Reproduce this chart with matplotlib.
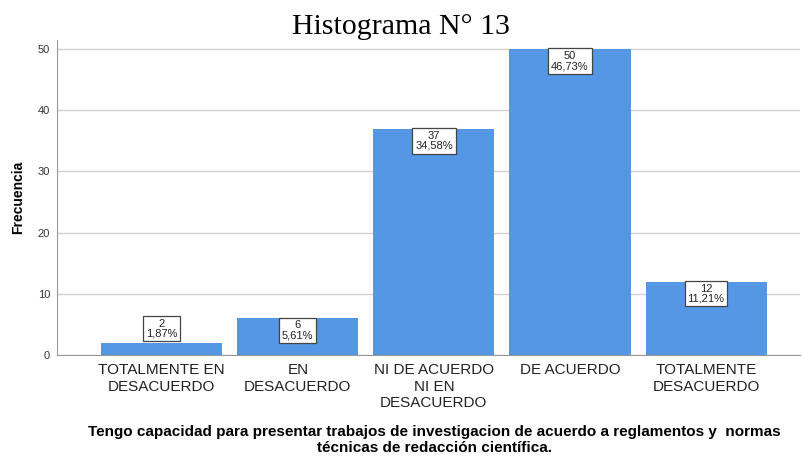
import matplotlib
matplotlib.use("Agg")
import matplotlib.pyplot as plt

# data
categorias = ["TOTALMENTE EN\nDESACUERDO", "EN\nDESACUERDO",
              "NI DE ACUERDO\nNI EN\nDESACUERDO", "DE ACUERDO",
              "TOTALMENTE\nDESACUERDO"]
frecuencias = [2, 6, 37, 50, 12]
porcentajes = ["1,87%", "5,61%", "34,58%", "46,73%", "11,21%"]

plt.rcParams['font.family'] = ['Liberation Sans', 'DejaVu Sans']

fig = plt.figure(figsize=(8.02, 4.59), dpi=100)
ax = fig.add_axes([0.071, 0.2266, 0.9265, 0.6863])

x = list(range(len(categorias)))
ax.bar(x, frecuencias, width=0.89, color='#5596e5', zorder=2)

for xi, f, p in zip(x, frecuencias, porcentajes):
  if f > 5:
    va = 'top'; dy = -1.5
  else:   # small bar: box sits above it
    va = 'bottom'; dy = 3
  ax.annotate("%d\n%s" % (f, p), (xi, f), xytext=(0, dy), textcoords='offset points',
              ha='center', va=va, fontsize=8, linespacing=1.0, color='#222222', zorder=3,
              bbox=dict(boxstyle='square,pad=0.25', fc='white', ec='#444444', lw=0.9))

ax.set_xlim(-0.77, 4.69)
ax.set_ylim(0, 51.5)
ax.set_yticks([0, 10, 20, 30, 40, 50])
ax.set_xticks(x)
ax.set_xticklabels(categorias, fontsize=11, linespacing=1.2, color='#222222')
ax.tick_params(axis='both', length=0)
ax.tick_params(axis='y', labelsize=8, pad=5, labelcolor='#333333')
ax.tick_params(axis='x', pad=6)
ax.yaxis.grid(True, color='#d0d0d0', lw=1, zorder=0)

for s in ['top', 'right']:
  ax.spines[s].set_visible(False)
ax.spines['left'].set_color('#999999')
ax.spines['bottom'].set_color('#999999')

ax.set_ylabel("Frecuencia", fontsize=10, fontweight='bold', labelpad=9)
fig.text(0.542, 0.041, "Tengo capacidad para presentar trabajos de investigacion de acuerdo a reglamentos y  normas\ntécnicas de redacción científica.",
         ha='center', va='center', fontsize=11, fontweight='bold', linespacing=1.15)
fig.text(0.5, 0.942, "Histograma N° 13", ha='center', va='center',
         fontsize=21.5, family=['Liberation Serif', 'DejaVu Serif'])

fig.savefig("out.png", dpi=100)
